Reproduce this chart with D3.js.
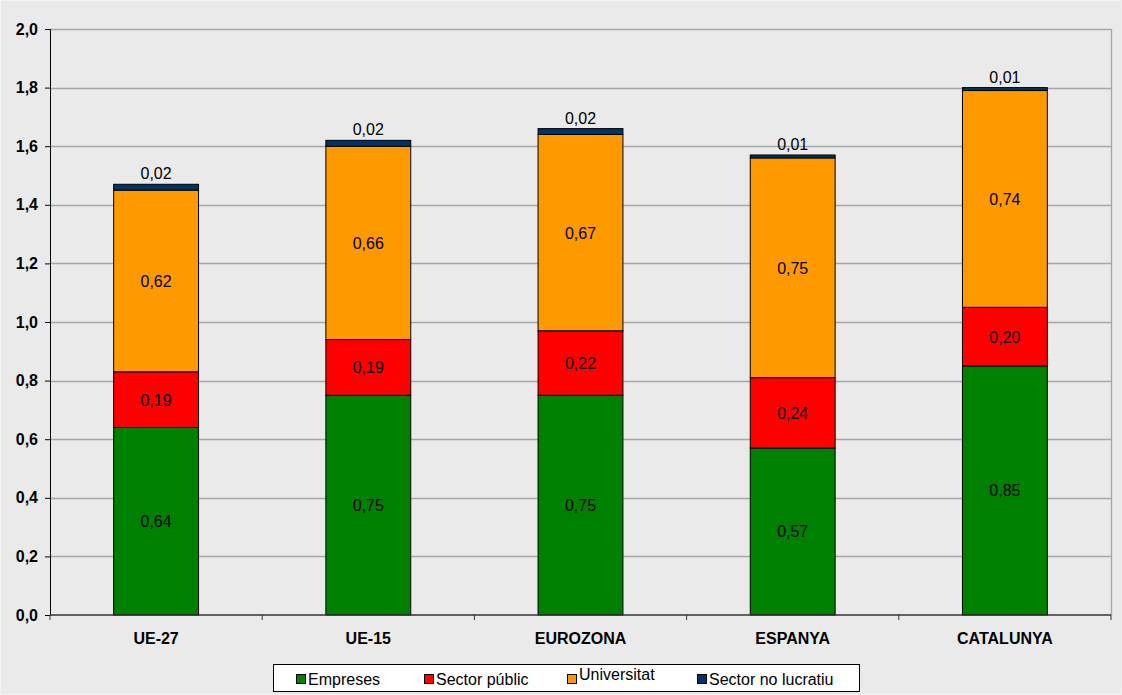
<!DOCTYPE html>
<html>
<head>
    <meta charset="utf-8">
    <title></title>
    <style type="text/css">
        html, body { margin: 0; padding: 0; background: #eaeaea; }
        svg { display: block; font-family: "Liberation Sans", Arial, sans-serif; }
    </style>
</head>
<body>
<svg id="svg" width="1122" height="695"></svg>

<script src="https://cdn.jsdelivr.net/npm/d3@7"></script>
<script type="text/javascript">
    var categories = ['UE-27', 'UE-15', 'EUROZONA', 'ESPANYA', 'CATALUNYA'];
    var seriesNames = ['Empreses', 'Sector públic', 'Universitat', 'Sector no lucratiu'];
    var empreses = [0.64, 0.75, 0.75, 0.57, 0.85];
    var sectorPublic = [0.19, 0.19, 0.22, 0.24, 0.20];
    var universitat = [0.62, 0.66, 0.67, 0.75, 0.74];
    var noLucratiu = [0.02, 0.02, 0.02, 0.01, 0.01];
    var yTicks = [0, 0.2, 0.4, 0.6, 0.8, 1.0, 1.2, 1.4, 1.6, 1.8, 2.0];
    var colors = ['#008000', '#ff0000', '#ff9900', '#003366'];

    var svg = d3.select('#svg');
    var W = 1122, H = 695;
    var m = {left: 50, right: 11, top: 29, bottom: 80};

    // fons i marc
    svg.append('rect').attr('x', 0.5).attr('y', 0.5).attr('width', W - 1).attr('height', H - 1)
        .attr('fill', '#eaeaea').attr('stroke', '#f4f4f4');

    var x = d3.scaleBand().domain(categories).range([m.left, W - m.right]);
    var y = d3.scaleLinear().domain([0, 2]).range([H - m.bottom, m.top]);

    var series = [empreses, sectorPublic, universitat, noLucratiu];
    var rows = categories.map(function (c, i) {
        var r = {cat: c};
        seriesNames.forEach(function (s, k) { r[s] = series[k][i]; });
        return r;
    });
    var stacked = d3.stack().keys(seriesNames)(rows);

    // graella
    svg.append('g').selectAll('line').data(yTicks.slice(1)).enter().append('line')
        .attr('x1', m.left).attr('x2', W - m.right)
        .attr('y1', d => Math.round(y(d)) + 0.5).attr('y2', d => Math.round(y(d)) + 0.5)
        .attr('stroke', '#a6a6a6').attr('stroke-width', 1.3);
    svg.append('line').attr('x1', W - m.right + 0.5).attr('x2', W - m.right + 0.5)
        .attr('y1', m.top).attr('y2', y(0)).attr('stroke', '#a6a6a6').attr('stroke-width', 1.3);

    var bw = x.bandwidth() * 0.4;
    var g = svg.selectAll('g.serie').data(stacked).enter().append('g')
        .attr('class', 'serie').attr('fill', (d, i) => colors[i]);
    g.selectAll('rect').data(d => d).enter().append('rect')
        .attr('x', d => x(d.data.cat) + (x.bandwidth() - bw) / 2)
        .attr('y', d => y(d[1]))
        .attr('width', bw)
        .attr('height', d => y(d[0]) - y(d[1]))
        .attr('stroke', '#000').attr('stroke-width', 1);

    // etiquetes de valors
    var fmt = v => d3.format('.2f')(v).replace('.', ',');
    stacked.forEach(function (s, k) {
        svg.append('g').selectAll('text').data(s).enter().append('text')
            .attr('x', d => x(d.data.cat) + x.bandwidth() / 2)
            .attr('y', d => k === 3 ? y(d[1]) - 5 : (y(d[0]) + y(d[1])) / 2 + 6)
            .attr('text-anchor', 'middle')
            .attr('font-size', 16).attr('fill', '#000')
            .text(d => fmt(d[1] - d[0]));
    });

    // eixos
    var yAxis = d3.axisLeft(y).tickValues(yTicks).tickSize(5).tickFormat(d => d3.format('.1f')(d).replace('.', ','));
    var ya = svg.append('g').attr('transform', 'translate(' + m.left + ',0)').call(yAxis);
    ya.selectAll('text').attr('font-size', 16).attr('font-weight', 'bold').attr('fill', '#000')
        .attr('font-family', '"Liberation Sans", Arial, sans-serif').attr('x', -12);
    ya.select('.domain').attr('stroke', '#000');

    var xa = svg.append('g').attr('transform', 'translate(0,' + y(0) + ')');
    xa.append('line').attr('x1', m.left).attr('x2', W - m.right).attr('stroke', '#333').attr('stroke-width', 1.5);
    xa.selectAll('line.tick').data(d3.range(categories.length + 1)).enter().append('line')
        .attr('class', 'tick')
        .attr('x1', i => m.left + i * x.step()).attr('x2', i => m.left + i * x.step())
        .attr('y1', 0).attr('y2', 5).attr('stroke', '#333');
    xa.selectAll('text').data(categories).enter().append('text')
        .attr('x', d => x(d) + x.bandwidth() / 2).attr('y', 28.5)
        .attr('text-anchor', 'middle').attr('font-size', 16).attr('font-weight', 'bold')
        .text(d => d);

    // llegenda
    var lg = svg.append('g');
    lg.append('rect').attr('x', 273.5).attr('y', 664.5).attr('width', 586).attr('height', 27)
        .attr('fill', '#fff').attr('stroke', '#000');
    var lx = [296, 424, 567, 697];
    var ldy = [0, 0, -5, 0];
    seriesNames.forEach(function (s, i) {
        lg.append('rect').attr('x', lx[i] + 0.5).attr('y', 674.5).attr('width', 9).attr('height', 9)
            .attr('fill', colors[i]).attr('stroke', '#000');
        lg.append('text').attr('x', lx[i] + 12).attr('y', 685 + ldy[i])
            .attr('font-size', 16).text(s);
    });
</script>
</body>
</html>
